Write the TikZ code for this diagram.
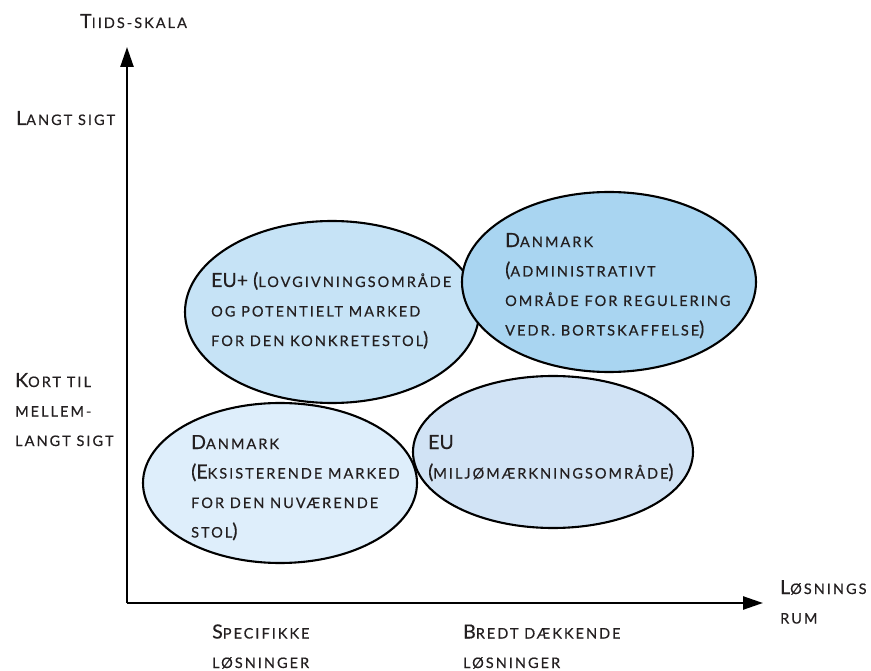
\documentclass[tikz,border=0pt]{standalone}
\usepackage{fontspec}
\setmainfont{Lato}[FakeBold=0.35]
\newfontfamily\bgf[FakeBold=0.35]{Lato}
\newfontfamily\scf[LetterSpace=14,FakeBold=0.45]{Lato}
\usetikzlibrary{shapes.geometric,arrows.meta}
\definecolor{euplus}{HTML}{C6E3F6}
\definecolor{dkadm}{HTML}{A9D5F1}
\definecolor{dkmark}{HTML}{DEEEFB}
\definecolor{eumk}{HTML}{D1E3F5}
\definecolor{txt}{HTML}{231F20}
\newcommand{\Bg}[1]{{\bgf\fontsize{19.5}{29.5}\selectfont #1}}
\newcommand{\Sm}[1]{{\scf\fontsize{14.5}{29.5}\selectfont #1}}
\tikzset{
  blob/.style={ellipse, draw=black, line width=2.1pt, inner sep=0pt},
  lbl/.style={anchor=base west, align=left, inner sep=0pt, text=txt,
    font=\fontsize{19.5}{29.5}\selectfont},
  axis/.style={line width=2.5pt, -{Triangle[length=20pt,width=13pt]}}
}
\begin{document}
\begin{tikzpicture}[x=1pt,y=-1pt]
\useasboundingbox (0,0) rectangle (871,671);
% ellipses
\node[blob, fill=euplus, minimum width=294pt, minimum height=182pt] (euplus) at (332,312) {};
\node[blob, fill=dkadm, minimum width=294pt, minimum height=180pt] (dkadm) at (609,282) {};
\node[blob, fill=dkmark, minimum width=274pt, minimum height=160pt] (dkmark) at (280,483) {};
\node[blob, fill=eumk, minimum width=280pt, minimum height=152pt] (eumk) at (553,452) {};
% axes
\coordinate (o) at (127,603);
\coordinate (ytip) at (127,47);
\coordinate (xtip) at (763,603);
\draw[axis] (o) -- (ytip);
\draw[axis] (o) -- (xtip);
% labels (anchored at the baseline of the last line)
\node[lbl] (tt) at (80,28) {\Bg{T}\Sm{IIDS-SKALA}};
\node[lbl] (lang) at (16,125) {\Bg{L}\Sm{ANGT SIGT}};
\node[lbl] (kort) at (15,446) {\Bg{K}\Sm{ORT TIL}\\\Sm{MELLEM-}\\\Sm{LANGT SIGT}};
\node[lbl] (teuplus) at (211,346) {\Bg{EU+ (}\Sm{LOVGIVNINGSOMRÅDE}\\\Sm{OG POTENTIELT MARKED}\\\Sm{FOR DEN KONKRETESTOL}\Bg{)}};
\node[lbl] (tdkadm) at (505,335.5) {\Bg{D}\Sm{ANMARK}\\\Bg{(}\Sm{ADMINISTRATIVT}\\\Sm{OMRÅDE FOR REGULERING}\\\Sm{VEDR. BORTSKAFFELSE}\Bg{)}};
\node[lbl] (tdkmark) at (191,537.5) {\Bg{D}\Sm{ANMARK}\\\Bg{(E}\Sm{KSISTERENDE MARKED}\\\Sm{FOR DEN NUVÆRENDE}\\\Sm{STOL}\Bg{)}};
\node[lbl] (teumk) at (428,478.5) {\Bg{EU}\\\Bg{(}\Sm{MILJØMÆRKNINGSOMRÅDE}\Bg{)}};
\node[lbl] (losn) at (780,623.5) {\Bg{L}\Sm{ØSNINGS}\\\Sm{RUM}};
\node[lbl] (spec) at (212,668) {\Bg{S}\Sm{PECIFIKKE}\\\Sm{LØSNINGER}};
\node[lbl] (bredt) at (463,668) {\Bg{B}\Sm{REDT DÆKKENDE}\\\Sm{LØSNINGER}};
\end{tikzpicture}
\end{document}
